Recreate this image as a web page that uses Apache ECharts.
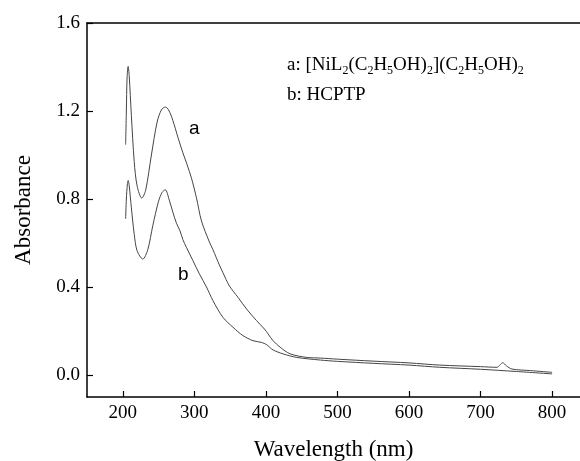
<!DOCTYPE html>
<html>
<head>
<meta charset="utf-8">
<script src="https://cdn.jsdelivr.net/npm/echarts@6/dist/echarts.min.js"></script>
<style>
  html, body { margin: 0; padding: 0; background: #fff; }
  #chart { width: 580px; height: 461px; }
</style>
</head>
<body>
<div id="chart"></div>
<script>
// UV-Vis spectra, values
// curve a: complex, curve b: ligand HCPTP
var wavelengthA = [204, 205, 206, 207.5, 209, 212, 216, 220, 226.6, 232, 240, 248, 254, 259.4, 264, 270, 277, 284, 290, 296, 303, 310, 321, 326, 335, 340, 349, 361, 373, 387, 398, 403, 410, 420, 434, 457, 476, 500, 550, 600, 643, 700, 723, 727, 731, 736, 744, 770, 800];
var absA = [1.047, 1.2, 1.35, 1.403, 1.36, 1.18, 0.97, 0.86, 0.804, 0.84, 1.0, 1.15, 1.205, 1.218, 1.205, 1.157, 1.081, 1.01, 0.955, 0.895, 0.805, 0.70, 0.605, 0.57, 0.50, 0.465, 0.405, 0.353, 0.3, 0.247, 0.209, 0.187, 0.156, 0.126, 0.096, 0.08, 0.077, 0.072, 0.063, 0.055, 0.045, 0.038, 0.035, 0.045, 0.056, 0.042, 0.027, 0.02, 0.012];

var wavelengthB = [204, 205, 206.5, 207.5, 209, 212, 216, 220, 228, 235, 242, 250, 255, 259.4, 265, 270, 275, 280, 284, 289, 298, 307, 317, 326, 340, 354, 368, 382, 394, 401, 410, 424, 443, 476, 500, 550, 600, 643, 700, 750, 800];
var absB = [0.71, 0.8, 0.87, 0.884, 0.86, 0.76, 0.64, 0.565, 0.527, 0.57, 0.68, 0.79, 0.83, 0.842, 0.795, 0.74, 0.69, 0.655, 0.615, 0.58, 0.52, 0.46, 0.40, 0.338, 0.262, 0.217, 0.179, 0.156, 0.148, 0.138, 0.114, 0.096, 0.08, 0.068, 0.062, 0.053, 0.045, 0.035, 0.026, 0.016, 0.005];

var xTicks = [200, 300, 400, 500, 600, 700, 800];
var yTicks = [0, 0.4, 0.8, 1.2, 1.6];

function pairs(xs, ys) {
  return xs.map(function (x, i) { return [x, ys[i]]; });
}

var serif = '"Liberation Serif", "DejaVu Serif", serif';
var sans = '"Liberation Sans", Arial, sans-serif';

var chart = echarts.init(document.getElementById('chart'));
chart.setOption({
  animation: false,
  grid: { left: 87, top: 23, right: 0, bottom: 64, outerBoundsMode: 'none', containLabel: false },
  xAxis: [
    {
      type: 'value', min: 150, max: 839,
      name: 'Wavelength (nm)', nameLocation: 'middle', nameGap: 41,
      nameTextStyle: { fontFamily: serif, fontSize: 23, color: '#000' },
      axisLine: { onZero: false, lineStyle: { color: '#000', width: 1.5 } },
      axisTick: { inside: true, length: 6, customValues: xTicks, lineStyle: { color: '#000', width: 1.2 } },
      axisLabel: { customValues: xTicks, fontFamily: serif, fontSize: 19, color: '#000', margin: 7 },
      splitLine: { show: false }
    },
    {
      // top frame line only
      type: 'value', position: 'top', min: 150, max: 839,
      axisLine: { show: true, onZero: false, lineStyle: { color: '#000', width: 1.5 } },
      axisTick: { show: false }, axisLabel: { show: false }, splitLine: { show: false }
    }
  ],
  yAxis: {
    type: 'value', min: -0.1, max: 1.6,
    name: 'Absorbance', nameLocation: 'middle', nameGap: 52, nameRotate: 90,
    nameTextStyle: { fontFamily: serif, fontSize: 23, color: '#000' },
    axisLine: { show: true, onZero: false, lineStyle: { color: '#000', width: 1.5 } },
    axisTick: { show: true, inside: true, length: 6, customValues: yTicks, lineStyle: { color: '#000', width: 1.2 } },
    axisLabel: {
      customValues: yTicks, fontFamily: serif, fontSize: 19, color: '#000', margin: 7,
      formatter: function (v) { return v.toFixed(1); }
    },
    splitLine: { show: false }
  },
  series: [
    {
      name: 'a', type: 'line', smooth: 0.3, showSymbol: false,
      lineStyle: { color: '#444', width: 1 },
      data: pairs(wavelengthA, absA)
    },
    {
      name: 'b', type: 'line', smooth: 0.3, showSymbol: false,
      lineStyle: { color: '#444', width: 1 },
      data: pairs(wavelengthB, absB)
    }
  ],
  graphic: [
    { type: 'text', left: 189, top: 119, style: { text: 'a', font: '19px ' + sans, fill: '#000' } },
    { type: 'text', left: 178, top: 265, style: { text: 'b', font: '19px ' + sans, fill: '#000' } },
    {
      type: 'text', left: 287, top: 56,
      style: {
        text: 'a: [NiL{s|2}(C{s|2}H{s|5}OH){s|2}](C{s|2}H{s|5}OH){s|2}',
        fontFamily: serif, fontSize: 19, fill: '#000',
        rich: { s: { fontFamily: serif, fontSize: 12, verticalAlign: 'bottom', padding: [10, 0, 0, 0] } }
      }
    },
    { type: 'text', left: 287, top: 86, style: { text: 'b: HCPTP', font: '19px ' + serif, fill: '#000' } }
  ]
});
</script>
</body>
</html>
